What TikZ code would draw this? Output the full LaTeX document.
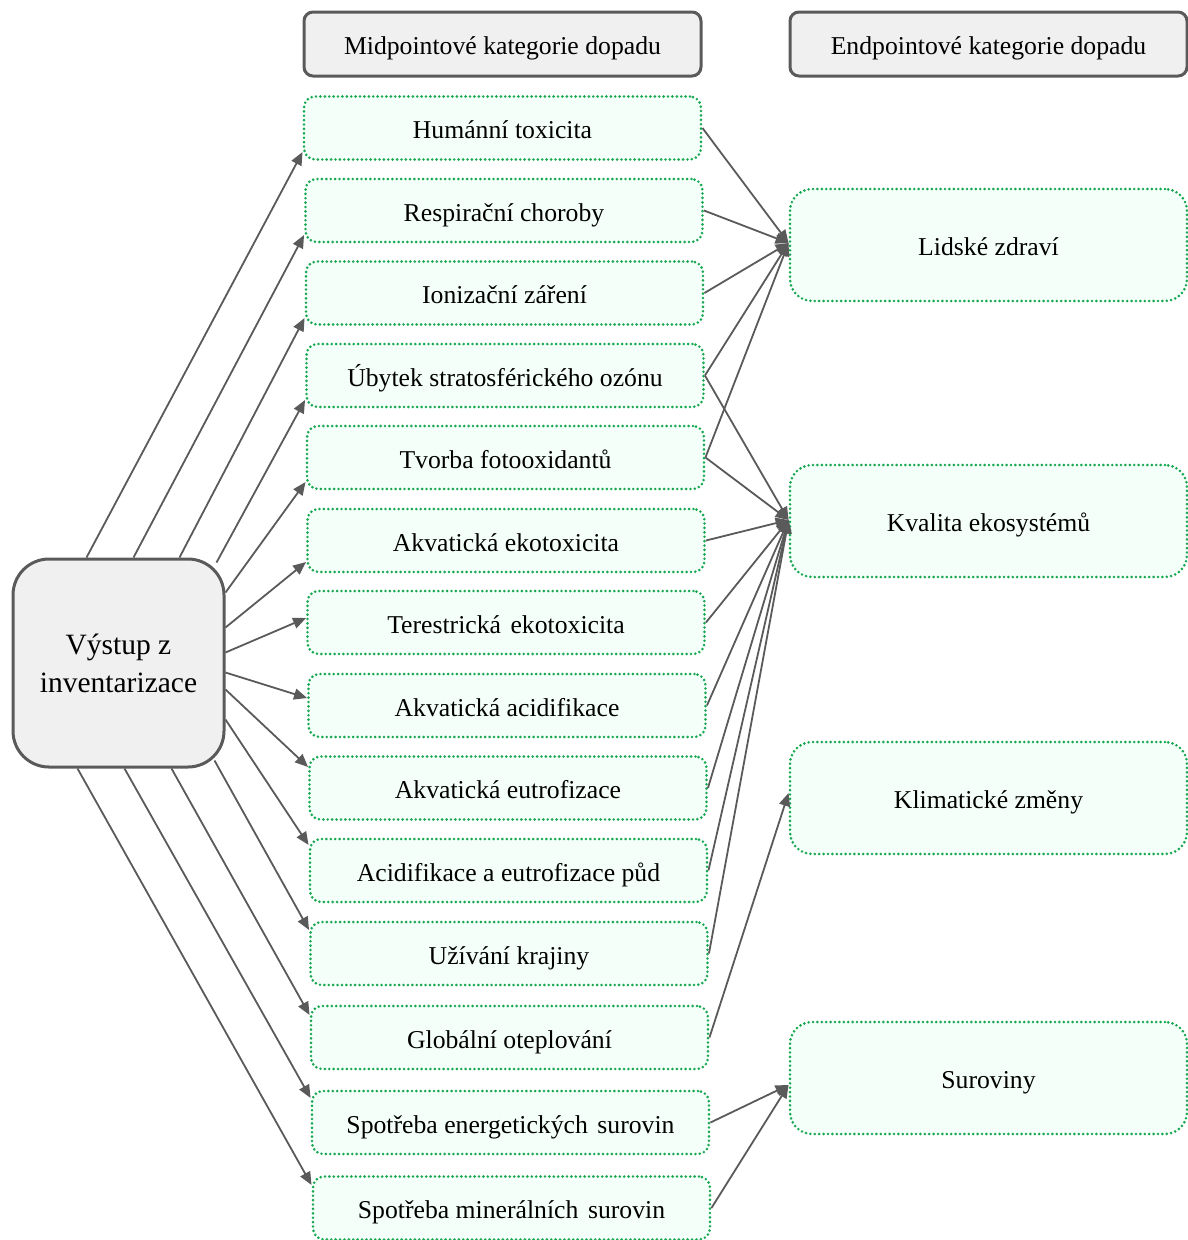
\documentclass[tikz,border=0pt]{standalone}
\usepackage{fontspec}
\setmainfont{Liberation Serif}
\usetikzlibrary{arrows.meta,calc}
\definecolor{hdrfill}{HTML}{F0F0F0}
\definecolor{hdrdraw}{HTML}{5A5A5A}
\definecolor{dotgreen}{HTML}{18A852}
\definecolor{mint}{HTML}{F5FFF9}
\definecolor{conn}{HTML}{5A5A5A}
\begin{document}
\begin{tikzpicture}[x=1pt,y=-1pt,
  hdr/.style={draw=hdrdraw, line width=3pt, fill=hdrfill, rounded corners=9pt,
    minimum width=397pt, minimum height=64pt, inner sep=0pt,
    text height=22pt, text depth=1pt,
    font=\fontsize{25.7}{30}\selectfont},
  mid/.style={draw=dotgreen, line width=2.9pt, dash pattern=on 0pt off 4.4pt,
    line cap=round, fill=mint, rounded corners=11pt,
    minimum width=397pt, minimum height=63pt, inner sep=0pt,
    text height=22pt, text depth=1pt,
    font=\fontsize{25.7}{30}\selectfont},
  endb/.style={mid, rounded corners=22pt, minimum height=112pt},
  src/.style={draw=hdrdraw, line width=3pt, fill=hdrfill, rounded corners=36pt,
    minimum width=211pt, minimum height=208pt, align=center,
    font=\fontsize{29.5}{38}\selectfont},
  arr/.style={draw=conn, line width=1.8pt, -{Triangle[length=13pt,width=11pt]}}
]
\useasboundingbox (0,0) rectangle (1187,1240);

% headers
\node[hdr] (h1) at (502.5,44) {Midpointové kategorie dopadu};
\node[hdr] (h2) at (988.5,44) {Endpointové kategorie dopadu};

% source
\node[src] (L) at (118.5,663) {Výstup z\\inventarizace};

% midpoint categories
\node[mid] (m1)  at (502.5,128)  {Humánní toxicita};
\node[mid] (m2)  at (504,210.5)  {Respirační choroby};
\node[mid] (m3)  at (504.5,293)  {Ionizační záření};
\node[mid] (m4)  at (505,375.5)  {Úbytek stratosférického ozónu};
\node[mid] (m5)  at (505.5,457.5) {Tvorba fotooxidantů};
\node[mid] (m6)  at (506,540.5)  {Akvatická ekotoxicita};
\node[mid] (m7)  at (506,622.5)  {Terestrická\hspace{0.12em} ekotoxicita};
\node[mid] (m8)  at (507,705.5)  {Akvatická acidifikace};
\node[mid] (m9)  at (508,788)    {Akvatická eutrofizace};
\node[mid] (m10) at (508.5,870.5) {Acidifikace a eutrofizace půd};
\node[mid] (m11) at (509,953.5)  {Užívání krajiny};
\node[mid] (m12) at (509.5,1037.5) {Globální oteplování};
\node[mid] (m13) at (510.5,1122.5) {Spotřeba energetických\hspace{0.12em} surovin};
\node[mid] (m14) at (511.5,1208) {Spotřeba minerálních\hspace{0.12em} surovin};

% endpoint categories
\node[endb] (e1) at (988.5,245)  {Lidské zdraví};
\node[endb] (e2) at (988.5,521)  {Kvalita ekosystémů};
\node[endb] (e3) at (988.5,798)  {Klimatické změny};
\node[endb] (e4) at (988.5,1078) {Suroviny};

% source -> midpoints
\draw[arr] ([xshift=75pt]L.north west)  -- ([yshift=-24pt]m1.west);
\draw[arr] ([xshift=122pt]L.north west) -- ([yshift=-24.5pt]m2.west);
\draw[arr] ([xshift=168pt]L.north west) -- ([yshift=-25pt]m3.west);
\draw[arr] ([xshift=205pt,yshift=-5pt]L.north west) -- ([yshift=-24.5pt]m4.west);
\draw[arr] ([yshift=-35pt]L.north east)  -- ([yshift=-24.5pt]m5.west);
\draw[arr] ([yshift=-70pt]L.north east)  -- ([yshift=-21.5pt]m6.west);
\draw[arr] ([yshift=-95pt]L.north east)  -- ([yshift=4.5pt]m7.west);
\draw[arr] ([yshift=-115pt]L.north east) -- ([yshift=7.5pt]m8.west);
\draw[arr] ([yshift=-132pt]L.north east) -- ([yshift=21pt]m9.west);
\draw[arr] ([yshift=-162pt]L.north east) -- ([yshift=25.5pt]m10.west);
\draw[arr] ([xshift=203pt,yshift=8pt]L.south west) -- ([yshift=23.5pt]m11.west);
\draw[arr] ([xshift=160pt]L.south west) -- ([yshift=22.5pt]m12.west);
\draw[arr] ([xshift=113pt]L.south west) -- ([yshift=24.5pt]m13.west);
\draw[arr] ([xshift=66pt]L.south west)  -- ([yshift=23pt]m14.west);

% midpoints -> endpoints
\foreach \m in {m1,m2,m3,m4,m5}
  \draw[arr] (\m.east) -- ([yshift=2pt]e1.west);
\foreach \m in {m4,m5,m6,m7,m8,m9,m10,m11}
  \draw[arr] (\m.east) -- ([yshift=1pt]e2.west);
\draw[arr] (m12.east) -- ([yshift=5pt]e3.west);
\draw[arr] (m13.east) -- ([yshift=-7pt]e4.west);
\draw[arr] (m14.east) -- ([yshift=-7pt]e4.west);
\end{tikzpicture}
\end{document}
